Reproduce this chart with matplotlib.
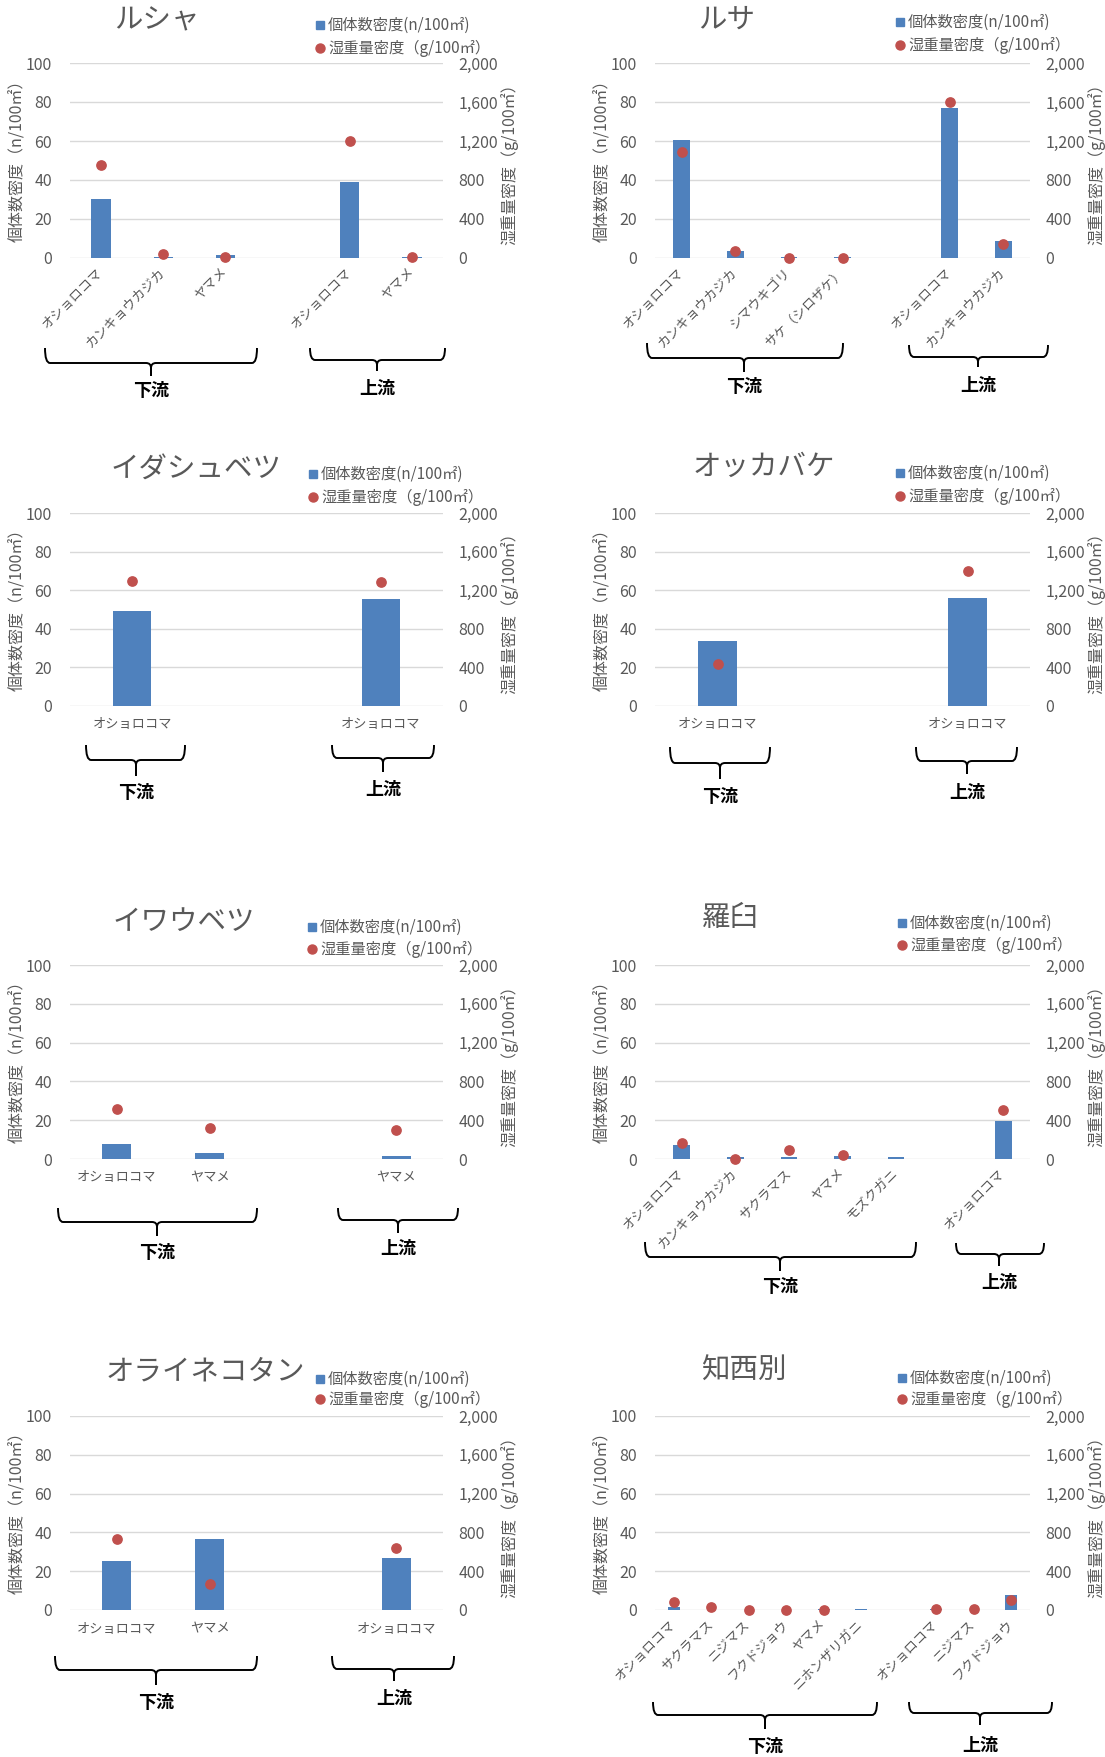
import numpy as np
import matplotlib
matplotlib.use('Agg')
import matplotlib.pyplot as plt
from matplotlib.path import Path
from matplotlib.patches import PathPatch
from matplotlib.lines import Line2D
from matplotlib.ticker import FuncFormatter

plt.rcParams['font.family'] = ['Noto Sans CJK JP', 'DejaVu Sans']

# --- data: fish density (n/100m2) and wet weight density (g/100m2) ---
rusha_down = ['オショロコマ', 'カンキョウカジカ', 'ヤマメ']
rusha_up = ['オショロコマ', 'ヤマメ']
rusha_n = [30.0, 0.3, 1.4, 39.2, 0.3]
rusha_g = [950, 38, 10, 1200, 10]

rusa_down = ['オショロコマ', 'カンキョウカジカ', 'シマウキゴリ', 'サケ（シロザケ）']
rusa_up = ['オショロコマ', 'カンキョウカジカ']
rusa_n = [60.4, 3.6, 0.3, 0.3, 76.8, 8.7]
rusa_g = [1084, 69, 3, 3, 1599, 141]

idashubetsu_down = ['オショロコマ']
idashubetsu_up = ['オショロコマ']
idashubetsu_n = [49.2, 55.2]
idashubetsu_g = [1294, 1281]

okkabake_down = ['オショロコマ']
okkabake_up = ['オショロコマ']
okkabake_n = [33.9, 55.8]
okkabake_g = [434, 1404]

iwaubetsu_down = ['オショロコマ', 'ヤマメ']
iwaubetsu_up = ['ヤマメ']
iwaubetsu_n = [7.9, 3.3, 1.4]
iwaubetsu_g = [516, 320, 303]

rausu_down = ['オショロコマ', 'カンキョウカジカ', 'サクラマス', 'ヤマメ', 'モズクガニ']
rausu_up = ['オショロコマ']
rausu_n = [7.4, 0.9, 0.8, 1.4, 0.8, 19.4]
rausu_g = [162, 5, 96, 41, None, 503]

orainekotan_down = ['オショロコマ', 'ヤマメ']
orainekotan_up = ['オショロコマ']
orainekotan_n = [25.4, 36.6, 26.6]
orainekotan_g = [729, 265, 636]

chinishibetsu_down = ['オショロコマ', 'サクラマス', 'ニジマス', 'フクドジョウ', 'ヤマメ', 'ニホンザリガニ']
chinishibetsu_up = ['オショロコマ', 'ニジマス', 'フクドジョウ']
chinishibetsu_n = [1.5, 0.2, 0.1, 0.1, 0.5, 0.3, 0.7, 0.1, 7.9]
chinishibetsu_g = [82, 27, 3, 2, 3, None, 14, 14, 107]

W, H = 1105, 1757
BLUE = '#4F81BD'
RED = '#C0504D'
GREY = '#595959'
GRID = '#D9D9D9'


def fx(x):
    return x / W


def fy(y):
    return 1 - y / H


# layout in reference pixels
panels = [
    dict(title='ルシャ', down=rusha_down, up=rusha_up, n=rusha_n, g=rusha_g,
         rect=(70, 63, 443, 258), rotate=True, title_xy=(157, 20), legend_xy=(320, 25, 48),
         braces=[(45, 257, 348, 363, 376, 151, 390), (310, 445, 348, 360, 371, 377, 388)]),
    dict(title='ルサ', down=rusa_down, up=rusa_up, n=rusa_n, g=rusa_g,
         rect=(655, 63, 1030, 258), rotate=True, title_xy=(727, 20), legend_xy=(900, 22, 45),
         braces=[(647, 843, 343, 358, 372, 744, 387), (909, 1048, 345, 357, 367, 978, 385)]),
    dict(title='イダシュベツ', down=idashubetsu_down, up=idashubetsu_up, n=idashubetsu_n, g=idashubetsu_g,
         rect=(70, 513, 443, 706), rotate=False, title_xy=(196, 470), legend_xy=(313, 474, 497),
         braces=[(86, 185, 745, 760, 776, 136, 793), (332, 434, 745, 758, 772, 383, 789)]),
    dict(title='オッカバケ', down=okkabake_down, up=okkabake_up, n=okkabake_n, g=okkabake_g,
         rect=(655, 513, 1030, 706), rotate=False, title_xy=(764, 467), legend_xy=(900, 473, 496),
         braces=[(670, 770, 747, 763, 779, 720, 797), (916, 1017, 747, 761, 774, 967, 792)]),
    dict(title='イワウベツ', down=iwaubetsu_down, up=iwaubetsu_up, n=iwaubetsu_n, g=iwaubetsu_g,
         rect=(70, 965, 443, 1159), rotate=False, title_xy=(184, 922), legend_xy=(312, 927, 949),
         braces=[(58, 257, 1208, 1222, 1236, 157, 1252), (338, 458, 1208, 1220, 1233, 398, 1248)]),
    dict(title='羅臼', down=rausu_down, up=rausu_up, n=rausu_n, g=rausu_g,
         rect=(655, 965, 1030, 1159), rotate=True, title_xy=(730, 918), legend_xy=(902, 923, 945),
         braces=[(645, 916, 1242, 1257, 1271, 780, 1287), (956, 1044, 1243, 1254, 1266, 999, 1282)]),
    dict(title='オライネコタン', down=orainekotan_down, up=orainekotan_up, n=orainekotan_n, g=orainekotan_g,
         rect=(70, 1416, 443, 1610), rotate=False, title_xy=(205, 1372), legend_xy=(320, 1379, 1399),
         braces=[(55, 257, 1656, 1670, 1685, 156, 1703), (332, 454, 1656, 1669, 1681, 394, 1698)]),
    dict(title='知西別', down=chinishibetsu_down, up=chinishibetsu_up, n=chinishibetsu_n, g=chinishibetsu_g,
         rect=(655, 1416, 1030, 1610), rotate=True, title_xy=(744, 1371), legend_xy=(902, 1378, 1399),
         braces=[(653, 877, 1702, 1715, 1729, 765, 1747), (909, 1052, 1702, 1713, 1725, 980, 1745)]),
]


def draw_brace(fig, xl, xr, ytop, ymid, ytip, xc, r=5):
    # curly brace opening upward, drawn in reference pixels
    for a, b in [(xl, xc), (xr, xc)]:
        s = 1 if b > a else -1
        verts = [(a, ytop), (a, ymid), (a + s * r, ymid), (b - s * r, ymid),
                 (b, ymid), (b, ymid + r), (b, ytip)]
        codes = [Path.MOVETO, Path.CURVE3, Path.CURVE3, Path.LINETO,
                 Path.CURVE3, Path.CURVE3, Path.LINETO]
        verts = [(fx(x), fy(y)) for x, y in verts]
        fig.add_artist(PathPatch(Path(verts, codes), fc='none', ec='black', lw=1.4,
                                 transform=fig.transFigure))


fig = plt.figure(figsize=(W / 100, H / 100), dpi=100)

for p in panels:
    labels = p['down'] + [''] + p['up']
    n_vals = np.array(p['n'][:len(p['down'])] + [np.nan] + p['n'][len(p['down']):], dtype=float)
    g_vals = np.array(p['g'][:len(p['down'])] + [None] + p['g'][len(p['down']):], dtype=float)
    x = np.arange(len(labels))

    l, t, r, b = p['rect']
    ax = fig.add_axes([fx(l), fy(b), (r - l) / W, (b - t) / H])
    ax.bar(x, n_vals, width=0.31, color=BLUE, zorder=2)
    ax.set_xlim(-0.5, len(labels) - 0.5)
    ax.set_ylim(0, 100)
    ax.set_yticks(np.arange(0, 101, 20))
    ax.grid(axis='y', color=GRID, lw=1, zorder=0)
    for s in ax.spines.values():
        s.set_visible(False)
    ax.tick_params(axis='y', length=0, pad=13, labelsize=11.5, labelcolor=GREY)
    ax.set_xticks(x)
    if p['rotate']:
        ax.set_xticklabels(labels, rotation=45, ha='right', va='center', rotation_mode='anchor')
        ax.tick_params(axis='x', length=0, pad=9, labelsize=9.5, labelcolor=GREY)
    else:
        ax.set_xticklabels(labels)
        ax.tick_params(axis='x', length=0, pad=9, labelsize=9.5, labelcolor=GREY)

    ax2 = ax.twinx()
    ax2.scatter(x, g_vals, s=45, color=RED, zorder=3, clip_on=False)
    ax2.set_ylim(0, 2000)
    ax2.set_yticks(np.arange(0, 2001, 400))
    ax2.yaxis.set_major_formatter(FuncFormatter(lambda v, pos: f'{int(v):,}'))
    for s in ax2.spines.values():
        s.set_visible(False)
    ax2.tick_params(axis='y', length=0, pad=11, labelsize=11.5, labelcolor=GREY)

    w_px = r - l
    ax.text(-52 / w_px, 0.52, '個体数密度（n/100㎡）', transform=ax.transAxes, rotation=90,
            ha='center', va='center', fontsize=11.5, color=GREY)
    ax.text(1 + 66 / w_px, 0.5, '湿重量密度（g/100㎡）', transform=ax.transAxes, rotation=90,
            ha='center', va='center', fontsize=11.5, color=GREY)

    tx, ty = p['title_xy']
    fig.text(fx(tx), fy(ty), p['title'], ha='center', va='center', fontsize=20.5, color=GREY)

    mx, y1, y2 = p['legend_xy']
    fig.add_artist(Line2D([fx(mx)], [fy(y1)], marker='s', ms=6, color=BLUE, ls='none',
                          transform=fig.transFigure))
    fig.add_artist(Line2D([fx(mx)], [fy(y2)], marker='o', ms=6.5, color=RED, ls='none',
                          transform=fig.transFigure))
    fig.text(fx(mx + 8), fy(y1), '個体数密度(n/100㎡)', ha='left', va='center', fontsize=11, color=GREY)
    fig.text(fx(mx + 8), fy(y2), '湿重量密度（g/100㎡）', ha='left', va='center', fontsize=11, color=GREY)

    for (bl, br, btop, bmid, btip, bc, ly), name in zip(p['braces'], ['下流', '上流']):
        draw_brace(fig, bl, br, btop, bmid, btip, bc)
        fig.text(fx(bc), fy(ly), name, ha='center', va='center', fontsize=13,
                 fontweight='bold', color='black')

fig.savefig('out.png', dpi=100)
